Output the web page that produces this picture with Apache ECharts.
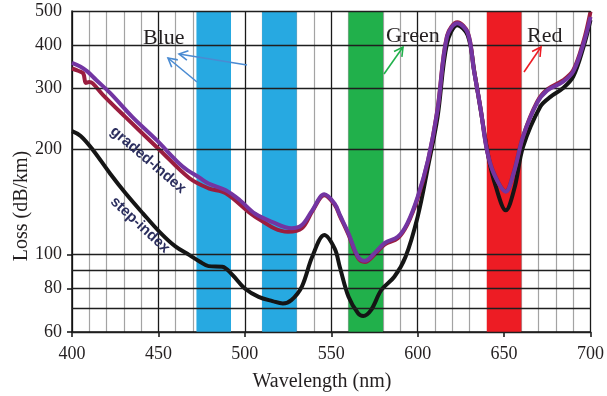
<!DOCTYPE html>
<html>
<head>
<meta charset="utf-8">
<script src="https://cdn.jsdelivr.net/npm/echarts@6/dist/echarts.min.js"></script>
<style>
  html, body { margin: 0; padding: 0; background: #fff; }
  #chart { width: 607px; height: 396px; }
</style>
</head>
<body>
<div id="chart"></div>
<script>
// Graded-index fibre, upper trace
const gradedWl   = [400, 405, 409, 414, 422, 435, 449, 464, 474, 479, 489, 497, 506, 516, 527, 533, 539, 546, 552, 555, 560, 565.5, 569.5, 575, 581, 588.5, 594, 600, 606, 611.5, 617, 623, 629, 632.5, 636.5, 640, 644, 651, 655.5, 661, 669, 675, 684, 690, 696, 700];
const gradedLoss = [355, 346, 335, 317, 291, 248, 213, 179, 166, 160, 153, 143.5, 131, 124, 119, 121.6, 134, 149, 140, 130, 115, 98.6, 96, 101, 108, 112.5, 123, 146.5, 187, 260, 422, 461, 432, 339, 260, 200, 171, 151.6, 171, 218, 272, 296, 313, 335, 404, 481];

// Graded-index fibre, second (dark red) trace
const gradedBWl   = [400, 403.5, 406.5, 408, 410, 412, 418, 431, 450.6, 468, 479, 489, 506, 525, 533, 539, 546, 552, 555, 560, 565.5, 569.5, 575, 581, 588.5, 594, 600, 606, 611.5, 617, 623, 629, 632.5, 636.5, 640, 644, 651, 655.5, 661, 669, 675, 684, 690, 696, 700];
const gradedBLoss = [342, 337, 331, 311, 313, 310, 287, 248, 200, 165.6, 155, 150, 128.5, 116.3, 119, 133, 148, 139, 129, 114, 97.8, 95.3, 100, 107, 111.5, 122, 145, 186, 262, 425, 464, 434, 340, 261, 201, 172, 152, 172, 219, 274, 298, 316, 338, 410, 498];

// Step-index fibre
const stepWl   = [400, 405, 412, 422, 431, 441, 450.6, 460, 468, 474, 479, 487, 493, 500, 508, 516, 522, 527, 533, 539, 546, 552, 555, 560, 565.5, 568.5, 573, 579, 586.5, 593, 600, 606, 611.5, 617, 623, 629, 633, 637, 641, 645, 651, 656, 661, 671, 677, 684, 690, 696, 700];
const stepLoss = [226, 219, 200, 171, 150, 131.4, 116.3, 105.4, 99.7, 95.4, 92.7, 92.3, 87.3, 80, 75.7, 73.6, 72.4, 74.1, 81, 98.6, 113.8, 104, 92, 75.7, 67.9, 66.7, 69.3, 79.2, 86.4, 98.6, 128.5, 179, 248, 404, 455, 425, 330, 250, 190, 158, 134, 155, 204, 266, 284, 300, 324, 395, 471];

// Colour bands (wavelength ranges, nm)
const bandStart = [472, 510, 560, 640];
const bandEnd   = [492, 530, 580, 660];
const bandColors = ['#27A9E1', '#27A9E1', '#21B04B', '#ED1C24'];

// Axis ticks
const yGridValues  = [60, 70, 80, 90, 100, 200, 300, 400, 500];
const yLabelValues = [60, 80, 100, 200, 300, 400, 500];
const yTickValues  = [60, 80, 100];

const zip = (xs, ys) => xs.map((x, i) => [x, ys[i]]);

const serif = '"Liberation Serif", "Times New Roman", serif';
const textColor = '#231F20';

// Straight arrow with an open chevron head at (x2, y2)
function arrow(x1, y1, x2, y2, color) {
  const dx = x2 - x1, dy = y2 - y1;
  const len = Math.hypot(dx, dy);
  const ux = dx / len, uy = dy / len;
  const L = 10, a = 0.5;
  const arm = s => [
    x2 - L * (ux * Math.cos(a) - s * uy * Math.sin(a)),
    y2 - L * (uy * Math.cos(a) + s * ux * Math.sin(a))
  ];
  const style = { stroke: color, lineWidth: 1.6, fill: null };
  return {
    type: 'group',
    z: 20,
    children: [
      { type: 'line', z: 20, shape: { x1, y1, x2, y2 }, style },
      { type: 'polyline', z: 20, shape: { points: [arm(1), [x2, y2], arm(-1)] }, style }
    ]
  };
}

const chart = echarts.init(document.getElementById('chart'), null, { renderer: 'canvas' });

chart.setOption({
  animation: false,
  backgroundColor: '#fff',
  grid: { left: 72, right: 13, top: 11, bottom: 64 },
  xAxis: {
    type: 'value',
    min: 400, max: 700, interval: 50,
    axisLine: { show: true, lineStyle: { color: '#111', width: 1.5 } },
    axisTick: { show: true, length: 5, lineStyle: { color: '#111', width: 1.5 } },
    axisLabel: { color: textColor, fontFamily: serif, fontSize: 18, margin: 13 },
    splitLine: { show: true, lineStyle: { color: '#1a1a1a', width: 1.3 } },
    minorTick: { show: false, splitNumber: 5 },
    minorSplitLine: { show: true, lineStyle: { color: '#a3a3a3', width: 1.2 } }
  },
  yAxis: {
    type: 'log',
    logBase: 10,
    min: 60, max: 500,
    axisLine: { show: true, lineStyle: { color: '#111', width: 1.5 } },
    axisTick: { show: true, length: 5, customValues: yTickValues, lineStyle: { color: '#111', width: 1.5 } },
    axisLabel: { color: textColor, fontFamily: serif, fontSize: 18, margin: 10, customValues: yLabelValues },
    splitLine: { show: false }
  },
  series: [
    {
      type: 'line',
      data: [],
      z: 1,
      silent: true,
      markLine: {
        silent: true,
        symbol: ['none', 'none'],
        label: { show: false },
        lineStyle: { color: '#1f1f1f', width: 1.4, type: 'solid' },
        data: yGridValues.map(v => ({ yAxis: v }))
      }
    },
    {
      type: 'line',
      data: [],
      z: 2,
      silent: true,
      markArea: {
        silent: true,
        data: bandStart.map((s, i) => [
          { xAxis: s, itemStyle: { color: bandColors[i], opacity: 1 } },
          { xAxis: bandEnd[i] }
        ])
      }
    },
    {
      name: 'step-index',
      type: 'line',
      data: zip(stepWl, stepLoss),
      smooth: 0.35,
      symbol: 'none',
      z: 3,
      lineStyle: { color: '#151515', width: 4 }
    },
    {
      name: 'graded-index B',
      type: 'line',
      data: zip(gradedBWl, gradedBLoss),
      smooth: 0.35,
      symbol: 'none',
      z: 4,
      lineStyle: { color: '#9B1D3F', width: 4 }
    },
    {
      name: 'graded-index',
      type: 'line',
      data: zip(gradedWl, gradedLoss),
      smooth: 0.35,
      symbol: 'none',
      z: 5,
      lineStyle: { color: '#7335A2', width: 4 }
    }
  ],
  graphic: [
    // axis titles
    {
      type: 'text', x: 322, y: 382, z: 20,
      style: { text: 'Wavelength (nm)', font: '20px ' + serif, fill: textColor, align: 'center', verticalAlign: 'middle' }
    },
    {
      type: 'text', x: 22, y: 206, rotation: Math.PI / 2, z: 20,
      style: { text: 'Loss (dB/km)', font: '20px ' + serif, fill: textColor, align: 'center', verticalAlign: 'middle' }
    },
    // colour annotations
    {
      type: 'text', x: 143, y: 38, z: 20,
      style: { text: 'Blue', font: '22px ' + serif, fill: textColor, align: 'left', verticalAlign: 'middle' }
    },
    {
      type: 'text', x: 386, y: 36, z: 20,
      style: { text: 'Green', font: '22px ' + serif, fill: textColor, align: 'left', verticalAlign: 'middle' }
    },
    {
      type: 'text', x: 527, y: 36, z: 20,
      style: { text: 'Red', font: '22px ' + serif, fill: textColor, align: 'left', verticalAlign: 'middle' }
    },
    arrow(247, 65, 179, 54, '#4A8BD2'),
    arrow(197, 82, 168, 58, '#4A8BD2'),
    arrow(384, 74, 403, 47, '#21B04B'),
    arrow(524, 72, 541, 47, '#ED1C24'),
    // curve labels
    {
      type: 'text', x: 148, y: 160, rotation: -0.71, z: 20,
      style: { text: 'graded-index', font: 'bold 15px "Liberation Sans", Arial, sans-serif', fill: '#2B2E5E', align: 'center', verticalAlign: 'middle' }
    },
    {
      type: 'text', x: 140, y: 225, rotation: -0.75, z: 20,
      style: { text: 'step-index', font: 'bold 15px "Liberation Sans", Arial, sans-serif', fill: '#2B2E5E', align: 'center', verticalAlign: 'middle' }
    }
  ]
});
</script>
</body>
</html>
